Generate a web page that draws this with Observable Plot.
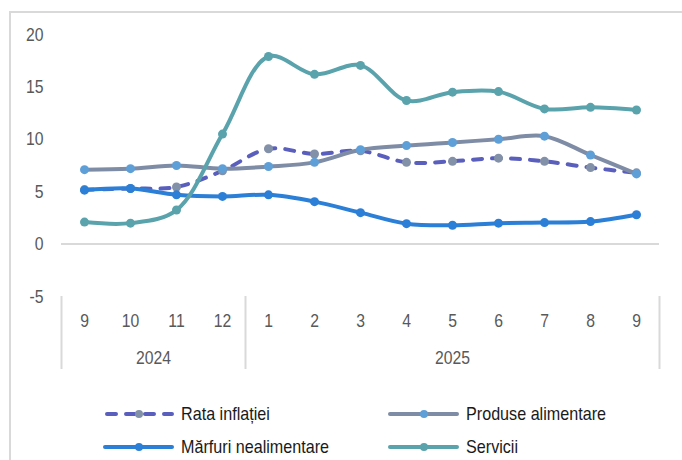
<!DOCTYPE html>
<html><head><meta charset="utf-8">
<script src="https://cdn.jsdelivr.net/npm/d3@7"></script>
<script src="https://cdn.jsdelivr.net/npm/@observablehq/plot@0.6"></script>
<style>
body{margin:0;background:#fff;}
#wrap{position:relative;width:682px;height:460px;overflow:hidden;font-family:"Liberation Sans Narrow","Arial Narrow","Liberation Sans",Arial,sans-serif;}
#frame{position:absolute;left:9px;top:11px;width:720px;height:520px;border-left:2px solid #d9d9d9;border-top:2px solid #d9d9d9;}
#chart{position:absolute;left:0;top:0;}
.leg{position:absolute;display:flex;align-items:center;font-size:19px;color:#1a1a1a;height:20px;line-height:20px;white-space:nowrap;}
.leg svg{margin-right:7px;flex:none;}
.leg span{display:inline-block;transform:scaleX(0.85);transform-origin:left center;}
</style></head><body>
<div id="wrap"><div id="frame"></div><div id="chart"></div></div>
<script>
// ---- data ----
const months = ["9","10","11","12","1","2","3","4","5","6","7","8","9"];
const years = ["2024","2025"];
const yearFirstIdx = [0, 4];
const yearLastIdx = [3, 12];
const yTicks = [-5, 0, 5, 10, 15, 20];

const rataInflatiei      = [5.2, 5.3, 5.45, 7.0, 9.1, 8.6, 8.9, 7.8, 7.9, 8.2, 7.9, 7.3, 6.8];
const produseAlimentare  = [7.1, 7.2, 7.5, 7.2, 7.4, 7.8, 9.0, 9.4, 9.7, 10.0, 10.3, 8.5, 6.7];
const marfuriNealimentare= [5.15, 5.3, 4.7, 4.55, 4.7, 4.05, 3.0, 1.95, 1.8, 2.0, 2.05, 2.15, 2.8];
const servicii           = [2.1, 2.0, 3.25, 10.5, 17.9, 16.2, 17.05, 13.7, 14.5, 14.55, 12.9, 13.05, 12.8];

const seriesNames = ["Rata inflației", "Produse alimentare", "Mărfuri nealimentare", "Servicii"];
const seriesValues = [rataInflatiei, produseAlimentare, marfuriNealimentare, servicii];
const lineColors = ["#5a5fbd", "#7f8ca6", "#2b7fd6", "#5aa3ad"];
const markerColors = ["#8391a8", "#5f9fd8", "#2b7fd6", "#5aa3ad"];
const dashes = ["9,10", null, null, null];

// ---- chart ----
const idx = months.map((d, i) => i);
const bounds = [-0.5, yearLastIdx[0] + 0.5, yearLastIdx[1] + 0.5];
const W = 682, H = 380, mT = 34, mB = 84, mL = 61, mR = 23;
const textScale = 0.83;

const marks = [
  Plot.axisY({ticks: yTicks, tickSize: 0, tickPadding: 18, fill: "#595959", tickFormat: d => String(d)}),
  Plot.ruleY([0], {stroke: "#d9d9d9", strokeWidth: 2}),
  Plot.ruleX(bounds, {x: d => d, stroke: "#d9d9d9", strokeWidth: 2, insetTop: (H - mB) - mT, insetBottom: -73}),
  Plot.text(months, {x: (d, i) => i, text: d => d, frameAnchor: "bottom", dy: 30, fill: "#595959"}),
  Plot.text(years, {x: (d, i) => (yearFirstIdx[i] + yearLastIdx[i]) / 2, text: d => d, frameAnchor: "bottom", dy: 67, fill: "#595959"})
];
seriesValues.forEach((vals, s) => {
  marks.push(Plot.line(idx, {x: i => i, y: i => vals[i], curve: "catmull-rom", stroke: lineColors[s], strokeWidth: 4,
    strokeDasharray: dashes[s] || undefined, strokeLinecap: "round"}));
  marks.push(Plot.dot(idx, {x: i => i, y: i => vals[i], r: 4.5, fill: markerColors[s], stroke: "none"}));
});

const chart = Plot.plot({
  width: W, height: H,
  marginTop: mT, marginBottom: mB, marginLeft: mL, marginRight: mR,
  x: {type: "linear", domain: [-0.5, 12.5], axis: null},
  y: {domain: [-5, 20], axis: null},
  style: {fontFamily: '"Liberation Sans Narrow","Arial Narrow","Liberation Sans",Arial,sans-serif', fontSize: "19px", background: "transparent", overflow: "visible"},
  marks
});
// condense the text horizontally (narrow font look), about each label's anchor point
chart.querySelectorAll("text").forEach(t => {
  const tr = t.getAttribute("transform");
  if (tr) {
    t.setAttribute("transform", tr + ` scale(${textScale},1)`);
  } else {
    const x = +t.getAttribute("x") || 0, y = +t.getAttribute("y") || 0;
    t.removeAttribute("x"); t.removeAttribute("y");
    t.setAttribute("transform", `translate(${x},${y}) scale(${textScale},1)`);
  }
});
document.getElementById("chart").appendChild(chart);

// ---- legend ----
const legPos = [[103, 404], [388, 404], [103, 437], [388, 437]];
const wrap = document.getElementById("wrap");
seriesNames.forEach((name, s) => {
  const div = document.createElement("div");
  div.className = "leg";
  div.style.left = legPos[s][0] + "px";
  div.style.top = legPos[s][1] + "px";
  const dash = dashes[s] ? `stroke-dasharray="9,10" stroke-dashoffset="-2"` : "";
  div.innerHTML = `<svg width="71" height="12"><line x1="2" y1="6" x2="69" y2="6" stroke="${lineColors[s]}" stroke-width="4" stroke-linecap="round" ${dash}/><circle cx="36" cy="6" r="4" fill="${markerColors[s]}"/></svg><span>${name}</span>`;
  wrap.appendChild(div);
});
</script>
</body></html>
